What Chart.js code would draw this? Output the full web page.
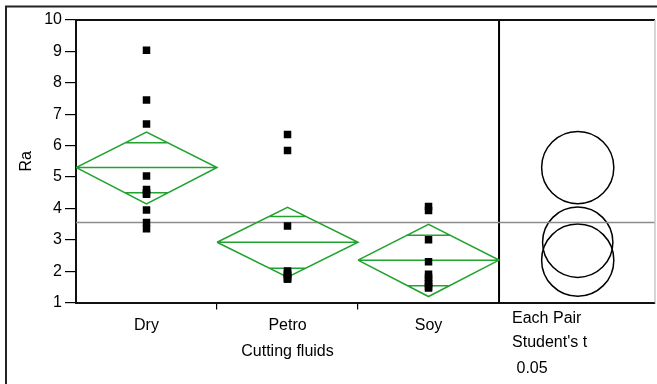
<!DOCTYPE html>
<html>
<head>
<meta charset="utf-8">
<script src="https://cdn.jsdelivr.net/npm/chart.js@4/dist/chart.umd.min.js"></script>
<style>
html,body{margin:0;padding:0;background:#fff;}
#wrap{position:relative;width:657px;height:384px;}
</style>
</head>
<body>
<div id="wrap"><canvas id="c" width="657" height="384"></canvas></div>
<script>
// ---- data ----
const categories = ['Dry', 'Petro', 'Soy'];
const dryRa   = [9.04, 7.45, 6.69, 5.03, 4.6, 4.5, 4.45, 3.95, 3.55, 3.35];
const petroRa = [6.35, 5.84, 3.44, 2.0, 1.95, 1.9, 1.85, 1.8, 1.75, 1.75];
const soyRa   = [4.06, 3.93, 3.0, 2.3, 1.9, 1.8, 1.7, 1.6, 1.5, 1.46];
const groupMeans   = [5.30, 2.92, 2.35];
const ciLower      = [4.14, 1.81, 1.19];
const ciUpper      = [6.43, 4.03, 3.49];
const overlapLower = [4.50, 2.09, 1.53];
const overlapUpper = [6.09, 3.74, 3.14];
const grandMean = 3.55;
const circleRadii = [1.15, 1.12, 1.15];
const yTicks = [1,2,3,4,5,6,7,8,9,10];
const panelText = ['Each Pair', "Student's t", ' 0.05'];
const xTitle = 'Cutting fluids';
const yTitle = 'Ra';

// ---- build datasets ----
const green = '#22a22e';
const FONT = '"Liberation Sans", Arial, sans-serif';
const groups = [dryRa, petroRa, soyRa];
const pointData = [];
groups.forEach((g, i) => g.forEach(v => pointData.push({x: i + 0.5, y: v})));

const diamondData = [];
groupMeans.forEach((m, i) => {
  const c = i + 0.5;
  diamondData.push({x: i, y: m}, {x: c, y: ciUpper[i]}, {x: i + 1, y: m}, {x: c, y: ciLower[i]}, {x: i, y: m}, {x: c, y: null});
  diamondData.push({x: i, y: m}, {x: i + 1, y: m}, {x: c, y: null});
  const h = (ciUpper[i] - ciLower[i]) / 2;
  [overlapUpper[i], overlapLower[i]].forEach(o => {
    const w = 0.5 * (1 - Math.abs(o - m) / h);
    diamondData.push({x: c - w, y: o}, {x: c + w, y: o}, {x: c, y: null});
  });
});

const panelStart = 3;
const xMax = 4.106;
const circleX = 3.558;
const circleData = groupMeans.map((m, i) => ({x: circleX, y: m, r: circleRadii[i]}));

const decor = {
  id: 'decor',
  afterDraw(chart) {
    const ctx = chart.ctx, a = chart.chartArea, xs = chart.scales.x;
    ctx.save();
    // outer frame
    ctx.strokeStyle = '#222'; ctx.lineWidth = 2;
    ctx.beginPath(); ctx.moveTo(6, 384); ctx.lineTo(6, 6.5); ctx.lineTo(657, 6.5); ctx.stroke();
    // plot top and right borders
    ctx.strokeStyle = '#111'; ctx.lineWidth = 2;
    ctx.beginPath(); ctx.moveTo(a.left, a.top); ctx.lineTo(a.right, a.top); ctx.stroke();
    ctx.strokeStyle = '#c8c8c8'; ctx.lineWidth = 1.5;
    ctx.beginPath(); ctx.moveTo(a.right, a.top); ctx.lineTo(a.right, a.bottom); ctx.stroke();
    // texts
    ctx.fillStyle = '#000';
    ctx.font = '16px ' + FONT;
    ctx.textAlign = 'center'; ctx.textBaseline = 'middle';
    categories.forEach((c, i) => ctx.fillText(c, xs.getPixelForValue(i + 0.5), 326));
    ctx.fillText(xTitle, xs.getPixelForValue(1.5), 352);
    ctx.textAlign = 'left';
    const px = xs.getPixelForValue(panelStart) + 13;
    ctx.fillText(panelText[0], px, 319);
    ctx.fillText(panelText[1], px, 343);
    ctx.fillText(panelText[2], px, 369);
    ctx.save();
    ctx.translate(27, (a.top + a.bottom) / 2);
    ctx.rotate(-Math.PI / 2);
    ctx.textAlign = 'center';
    ctx.fillText(yTitle, 0, 0);
    ctx.restore();
    ctx.restore();
  }
};

new Chart(document.getElementById('c'), {
  type: 'scatter',
  data: {
    datasets: [
      { label: 'points', data: pointData, order: 0,
        pointStyle: 'rect', pointRadius: 5.3, backgroundColor: '#000', borderWidth: 0, showLine: false },
      { label: 'diamonds', type: 'line', data: diamondData, order: 1, spanGaps: false,
        borderColor: green, borderWidth: 1.5, pointRadius: 0, fill: false, tension: 0 },
      { label: 'grand mean', type: 'line', data: [{x: 0, y: grandMean}, {x: xMax, y: grandMean}], order: 2,
        borderColor: '#8c8c8c', borderWidth: 1.5, pointRadius: 0, fill: false },
      { label: 'divider', type: 'line', data: [{x: panelStart, y: 1}, {x: panelStart, y: 10}], order: 3,
        borderColor: '#000', borderWidth: 2, pointRadius: 0, fill: false },
      { label: 'circles', data: circleData, order: 4, pointStyle: 'circle',
        pointRadius: (ctx) => {
          const s = ctx.chart.scales.y; const d = ctx.raw;
          return d ? Math.abs(s.getPixelForValue(d.y) - s.getPixelForValue(d.y + d.r)) : 0;
        },
        backgroundColor: 'rgba(0,0,0,0)', borderColor: '#000', borderWidth: 1.5, showLine: false }
    ]
  },
  options: {
    responsive: false,
    animation: false,
    layout: { autoPadding: false, padding: { left: 0, top: 20, right: 2, bottom: 0 } },
    plugins: { legend: { display: false }, tooltip: { enabled: false } },
    scales: {
      x: {
        type: 'linear', min: 0, max: xMax,
        afterBuildTicks: (s) => { s.ticks = [{value: 1}, {value: 2}]; },
        afterFit: (s) => { s.height = 81.5; },
        ticks: { callback: () => '', padding: 0 },
        grid: { drawOnChartArea: false, tickLength: 7, color: '#000', lineWidth: 1.2 },
        border: { color: '#111', width: 2 }
      },
      y: {
        type: 'linear', min: 1, max: 10,
        afterBuildTicks: (s) => { s.ticks = yTicks.map(v => ({value: v})); },
        afterFit: (s) => { s.width = 76; },
        ticks: { color: '#000', padding: 3, font: { family: FONT, size: 16 } },
        grid: { drawOnChartArea: false, tickLength: 11, color: '#000', lineWidth: 1.2 },
        border: { color: '#111', width: 2 }
      }
    }
  },
  plugins: [decor]
});
</script>
</body>
</html>
